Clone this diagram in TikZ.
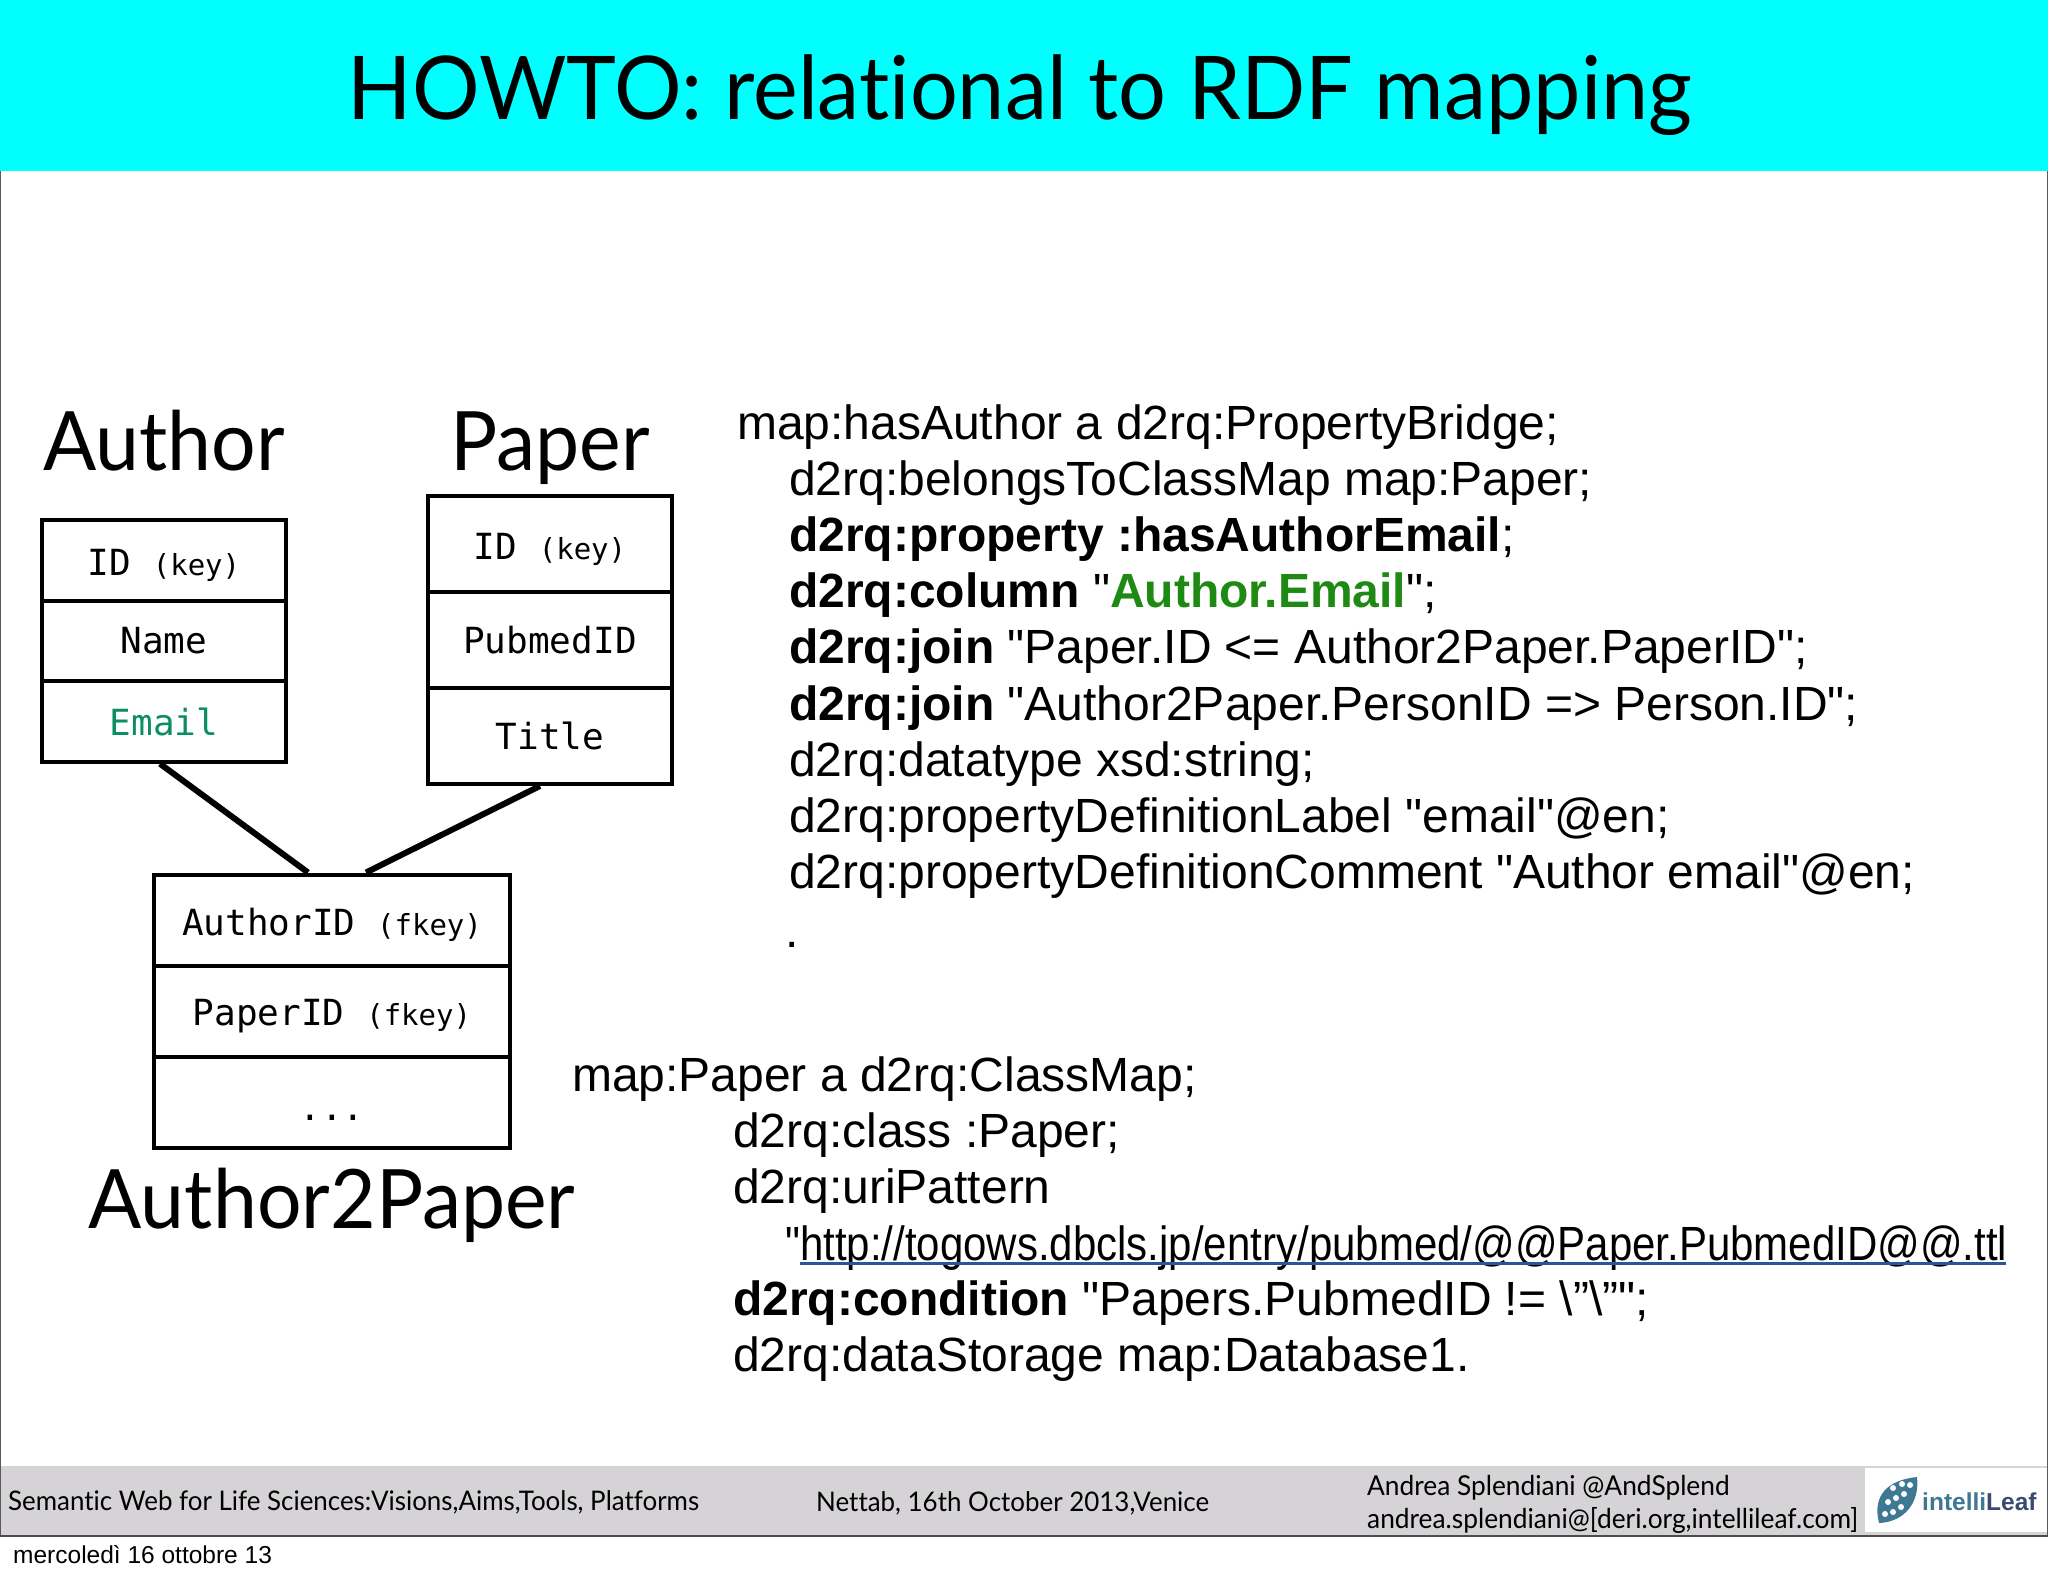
\documentclass[tikz,border=0pt]{standalone}
\usepackage{fontspec}
\setmainfont{Liberation Sans}
\setmonofont{DejaVu Sans Mono}
\newfontfamily\codefont{Liberation Sans}
\newfontfamily\linkfont{Liberation Sans}[FakeStretch=0.875]
\newfontfamily\gillfont{Lato}[FakeStretch=0.96,Ligatures=NoCommon]
\definecolor{bandcyan}{HTML}{00FFFF}
\definecolor{footgray}{HTML}{D5D3D6}
\definecolor{emailgreen}{HTML}{0A9060}
\definecolor{codegreen}{HTML}{1E8A14}
\definecolor{linkblue}{HTML}{2A5599}
\definecolor{leafblue}{HTML}{3F7893}
\definecolor{leafdark}{HTML}{3A4A70}
\newcommand{\bigmono}{\ttfamily\fontsize{36}{36}\selectfont}
\newcommand{\keyfont}{\fontsize{29}{29}\selectfont}
\newcommand{\lowrow}[1]{\raisebox{-5pt}[\height][\depth]{#1}}
\tikzset{
  slidetitle/.style={anchor=base,inner sep=0pt,font=\gillfont\fontsize{88}{88}\selectfont},
  tablename/.style={anchor=base,inner sep=0pt,font=\gillfont\fontsize{82}{82}\selectfont},
  footline/.style={anchor=base west,inner sep=0pt,font=\gillfont\fontsize{27}{27}\selectfont},
  nameline/.style={anchor=base west,inner sep=0pt,font=\gillfont\fontsize{27.4}{27.4}\selectfont},
  codeline/.style={anchor=base west,inner sep=0pt,font=\codefont\fontsize{48}{48}\selectfont},
  authorrow/.style={draw,line width=4pt,minimum width=244pt,minimum height=80.5pt,inner sep=0pt,font=\bigmono},
  paperrow/.style={draw,line width=4pt,minimum width=244pt,minimum height=96pt,inner sep=0pt,font=\bigmono},
  linkrow/.style={draw,line width=4pt,minimum width=356pt,minimum height=91pt,inner sep=0pt,font=\bigmono},
  tablelink/.style={line width=6pt}
}
\begin{document}
\begin{tikzpicture}[x=1pt,y=-1pt]
   \useasboundingbox (0,0) rectangle (2048,1576);
   % slide frame and bands
   \fill[white] (0,0) rectangle (2048,1576);
   \fill[bandcyan] (0,0) rectangle (2048,171);
   \fill[footgray] (0,1466) rectangle (2048,1535);
   \draw[gray!70!black,line width=1.5pt] (0.7,171) -- (0.7,1536) (2047.3,171) -- (2047.3,1536);
   \draw[black!70,line width=2pt] (0,1536) -- (2048,1536);
   \node[slidetitle] (title) at (1020,120) {HOWTO: relational to RDF mapping};

   % tables
   \node[tablename] (authorname) at (164,470) {Author};
   \node[tablename] (papername)  at (550,470) {Paper};
   \node[tablename] (linkname)   at (332,1228) {Author2Paper};

   \node[authorrow] (authorid)    at (164,560.5) {\lowrow{ID {\keyfont (key)}}};
   \node[authorrow] (authorother) at (164,641) {Name};
   \node[authorrow,text=emailgreen] (authoremail) at (164,721.5) {Email};

   \node[paperrow] (paperid)    at (550,544) {\lowrow{ID {\keyfont (key)}}};
   \node[paperrow] (paperpubmed) at (550,640) {PubmedID};
   \node[paperrow] (papertitle) at (550,736) {Title};

   \node[linkrow] (linkauthor) at (332,920) {\lowrow{AuthorID {\keyfont (fkey)}}};
   \node[linkrow] (linkpaper)  at (332,1011) {\lowrow{PaperID {\keyfont (fkey)}}};
   \node[linkrow] (linkrest)   at (332,1102) {\raisebox{-16pt}[\height][\depth]{...}};

   \draw[tablelink] ([xshift=-4pt]authoremail.south) -- ([xshift=-24pt]linkauthor.north);
   \draw[tablelink] ([xshift=-10pt]papertitle.south) -- ([xshift=34pt]linkauthor.north);

   % mapping of the property
   \node[codeline] (hasauthor) at (737,439) {map:hasAuthor a d2rq:PropertyBridge;};
   \node[codeline] (belongs)   at (789,495) {d2rq:belongsToClassMap map:Paper;};
   \node[codeline] (property)  at (789,551) {\textbf{d2rq:property :hasAuthorEmail};};
   \node[codeline] (column)    at (789,607) {\textbf{d2rq:column} "\textbf{\textcolor{codegreen}{Author.Email}}";};
   \node[codeline] (joinone)   at (789,663) {\textbf{d2rq:join} "Paper.ID <= Author2Paper.PaperID";};
   \node[codeline] (jointwo)   at (789,720) {\textbf{d2rq:join} "Author2Paper.PersonID => Person.ID";};
   \node[codeline] (datatype)  at (789,776) {d2rq:datatype xsd:string;};
   \node[codeline] (deflabel)  at (789,832) {d2rq:propertyDefinitionLabel "email"@en;};
   \node[codeline] (defcomment) at (789,888) {d2rq:propertyDefinitionComment "Author email"@en;};
   \node[codeline] (enddot)    at (785,947) {.};

   % mapping of the class
   \node[codeline] (classmap)  at (572,1091) {map:Paper a d2rq:ClassMap;};
   \node[codeline] (class)     at (733,1147) {d2rq:class :Paper;};
   \node[codeline] (uripattern) at (733,1203) {d2rq:uriPattern};
   \node[codeline,font=\linkfont\fontsize{48}{48}\selectfont] (uri) at (785,1260) {"http://togows.dbcls.jp/entry/pubmed/@@Paper.PubmedID@@.ttl};
   \node[codeline] (condition) at (733,1315) {\textbf{d2rq:condition} "Papers.PubmedID != \textbackslash ”\textbackslash ”";};
   \node[codeline] (storage)   at (733,1371) {d2rq:dataStorage map:Database1.};
   \coordinate (linkstart) at (800,1263);
   \coordinate (linkend) at (2006,1263);
   \draw[linkblue,line width=3pt] (linkstart) -- (linkend);

   % footer
   \node[footline] (event)  at (8,1510) {Semantic Web for Life Sciences:Visions,Aims,Tools, Platforms};
   \node[footline] (venue)  at (816,1511) {Nettab, 16th October 2013,Venice};
   \node[nameline] (who)    at (1367,1495) {Andrea Splendiani @AndSplend};
   \node[nameline] (mail)   at (1367,1528) {andrea.splendiani@[deri.org,intellileaf.com]};
   \fill[white] (1865,1468) rectangle (2047,1532);
   \fill[leafblue] (1879,1523) .. controls (1872,1495) and (1888,1480) .. (1917,1477)
                              .. controls (1920,1503) and (1904,1522) .. (1879,1523);
   \foreach \dotx/\doty in {1885/1514,1893/1512,1901/1507,1888/1502,1896/1498,1904/1494,1893/1488,1902/1484,1910/1485}
     \fill[white] (\dotx,\doty) circle (3);
   \node[anchor=base west,inner sep=0pt,text=leafblue,font=\codefont\bfseries\fontsize{24.5}{24.5}\selectfont] (logo) at (1922,1510) {intelli\textcolor{leafdark}{Leaf}};
   \node[anchor=base west,inner sep=0pt,font=\codefont\fontsize{24.5}{24.5}\selectfont] (date) at (13,1563) {mercoledì 16 ottobre 13};
\end{tikzpicture}
\end{document}
